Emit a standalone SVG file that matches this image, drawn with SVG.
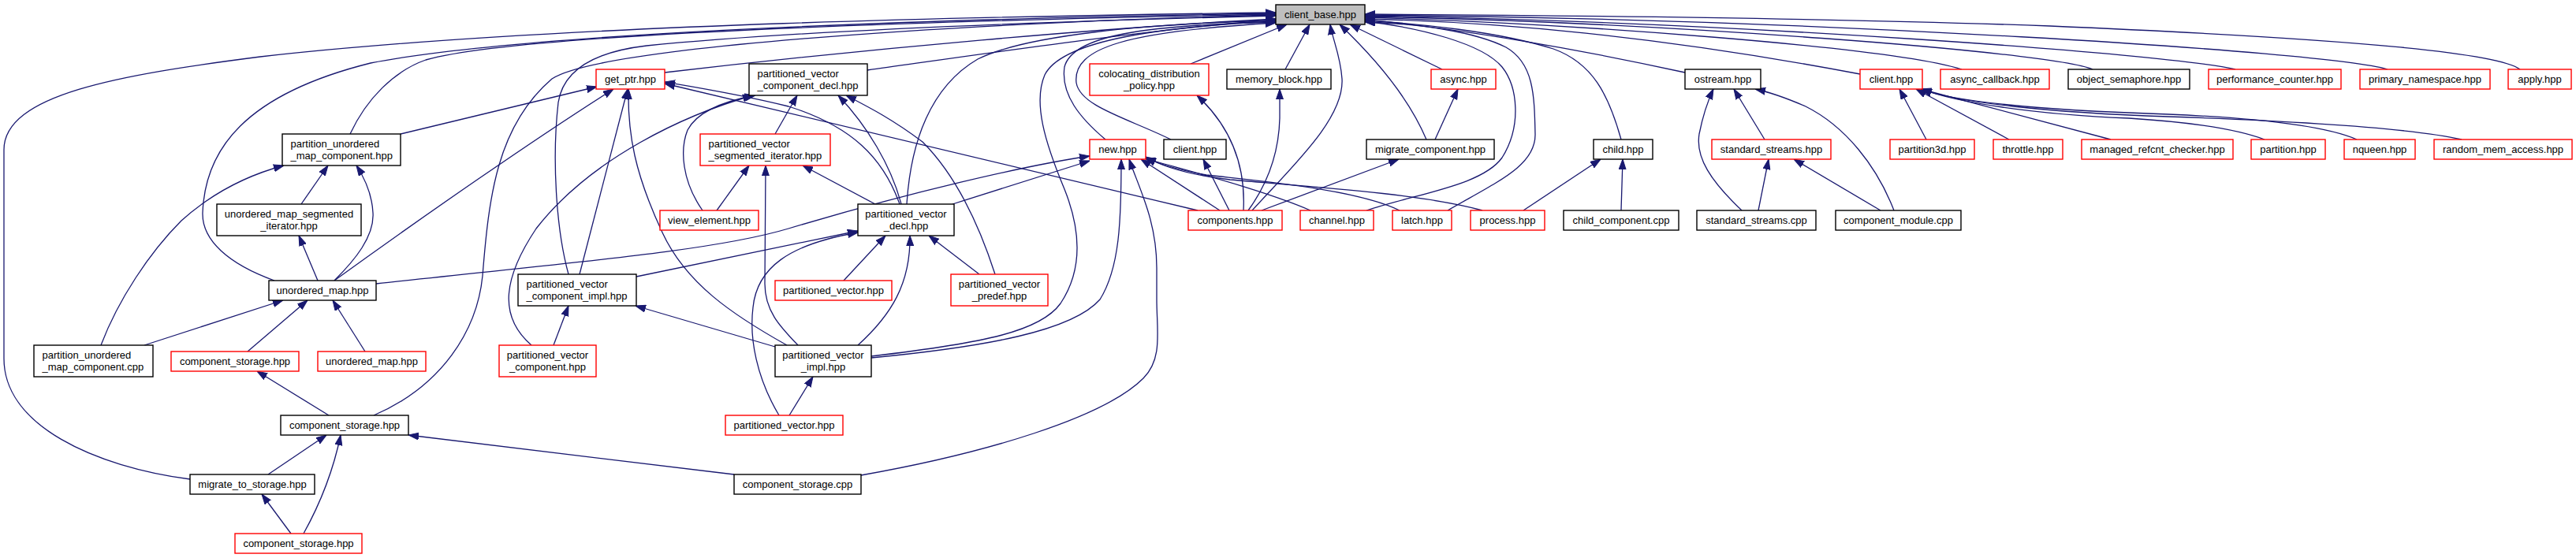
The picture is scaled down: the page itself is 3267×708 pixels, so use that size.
<svg xmlns="http://www.w3.org/2000/svg" width="3267" height="708" viewBox="0 0 3267 708">
<defs>
<marker id="ah" viewBox="0 0 13 10" refX="13" refY="5" markerWidth="13" markerHeight="10" markerUnits="userSpaceOnUse" orient="auto"><path d="M0,0.5 L13,5 L0,9.5 z" fill="#191970" stroke="#191970" stroke-width="1"/></marker>
<style>
.e{fill:none;stroke:#191970;stroke-width:1.3;marker-end:url(#ah)}
.nb rect{fill:#fff;stroke:#000;stroke-width:1.4}
.nr rect{fill:#fff;stroke:#ff0000;stroke-width:1.4}
.ng rect{fill:#bfbfbf;stroke:#000;stroke-width:1.4}
text{font-family:"Liberation Sans",Arial,sans-serif;font-size:13px;fill:#000}
.c{text-anchor:middle}
</style>
</defs>
<rect width="3267" height="708" fill="#fff"/>
<g id="edges">
<path class="e" d="M241,608 C120,592 5,540 5,455 L5,190 C5,120 150,95 330,72 C700,30 1300,20 1618,16"/>
<path class="e" d="M348,356 C290,335 256,305 257,270 C260,190 310,120 470,80 C650,45 1100,25 1618,17"/>
<path class="e" d="M444,170 C465,125 500,90 540,76 C650,45 1100,28 1618,18"/>
<path class="e" d="M474,527 C560,490 605,420 612,350 C620,250 630,160 700,100 C760,60 1200,30 1618,19"/>
<path class="e" d="M721,348 C705,290 700,200 708,130 C715,85 760,65 820,58 C1000,40 1300,28 1618,20"/>
<path class="e" d="M843,92 C1100,62 1400,35 1618,24"/>
<path class="e" d="M1100,89 C1250,68 1450,38 1618,25"/>
<path class="e" d="M1150,259 C1155,180 1180,110 1240,75 C1300,45 1450,30 1618,26"/>
<path class="e" d="M1105,452 C1250,435 1320,420 1345,385 C1375,340 1370,290 1350,240 C1325,180 1310,130 1325,95 C1345,55 1450,35 1618,27"/>
<path class="e" d="M1402,177 C1370,150 1345,120 1350,85 C1360,45 1450,32 1618,28"/>
<path class="e" d="M1485,177 C1430,150 1370,135 1365,105 C1360,60 1430,40 1618,29"/>
<path class="e" d="M1510,81 L1632,31"/>
<path class="e" d="M1630,88 L1661,31"/>
<path class="e" d="M1588,267 C1640,210 1705,150 1702,100 C1700,70 1690,50 1687,31"/>
<path class="e" d="M1809,177 C1785,120 1740,70 1699,31"/>
<path class="e" d="M1829,88 L1712,31"/>
<path class="e" d="M1733,267 C1800,245 1880,235 1905,200 C1930,160 1925,110 1905,85 C1880,55 1800,35 1731,27"/>
<path class="e" d="M1836,267 C1900,230 1948,210 1947,170 C1946,120 1945,80 1910,60 C1870,40 1800,30 1731,28"/>
<path class="e" d="M2056,177 C2040,120 2020,80 1970,62 C1900,40 1800,30 1731,26"/>
<path class="e" d="M2137,92 C2000,62 1850,36 1731,25"/>
<path class="e" d="M2359,94 C2100,45 1900,28 1731,24"/>
<path class="e" d="M2488,88 C2400,60 2000,30 1731,22"/>
<path class="e" d="M2654,88 C2600,65 2100,28 1731,21"/>
<path class="e" d="M2835,88 C2750,68 2200,28 1731,20"/>
<path class="e" d="M3028,88 C2950,65 2300,24 1731,19"/>
<path class="e" d="M3196,88 C3170,68 3000,50 2600,33 C2300,22 1900,19 1731,18"/>
<path class="e" d="M508,170 L757,110"/>
<path class="e" d="M424,356 C540,272 680,175 778,113"/>
<path class="e" d="M735,348 L796,113"/>
<path class="e" d="M998,438 C930,400 870,360 840,295 C805,220 796,170 797,113"/>
<path class="e" d="M1519,267 L843,106"/>
<path class="e" d="M1141,259 C1120,200 1080,160 1000,135 C940,120 890,112 843,104"/>
<path class="e" d="M674,438 C630,400 640,350 680,290 C750,200 870,145 955,121"/>
<path class="e" d="M891,267 C865,230 862,190 872,165 C885,140 920,128 958,121"/>
<path class="e" d="M983,170 L1011,121"/>
<path class="e" d="M1143,259 C1130,210 1100,160 1063,121"/>
<path class="e" d="M1262,348 C1240,280 1210,220 1170,180 C1130,150 1100,135 1073,121"/>
<path class="e" d="M909,267 L950,210"/>
<path class="e" d="M1012,438 C990,415 970,395 970,360 L971,210"/>
<path class="e" d="M1110,259 L1018,210"/>
<path class="e" d="M807,351 L1088,293"/>
<path class="e" d="M988,527 C960,480 950,430 955,390 C960,340 1000,310 1088,295"/>
<path class="e" d="M1070,356 L1123,299"/>
<path class="e" d="M1088,438 C1130,400 1155,360 1154,299"/>
<path class="e" d="M1242,348 L1178,299"/>
<path class="e" d="M702,438 L721,388"/>
<path class="e" d="M983,440 L806,388"/>
<path class="e" d="M183,438 L359,381"/>
<path class="e" d="M314,446 L390,381"/>
<path class="e" d="M463,446 L422,381"/>
<path class="e" d="M128,438 C150,380 190,320 230,280 C280,235 330,218 360,210"/>
<path class="e" d="M382,259 L416,210"/>
<path class="e" d="M424,356 C450,330 475,300 473,270 C472,250 465,230 452,210"/>
<path class="e" d="M403,356 L379,299"/>
<path class="e" d="M477,360 C700,335 900,320 1000,290 C1150,245 1300,210 1382,198"/>
<path class="e" d="M1208,259 L1382,204"/>
<path class="e" d="M1105,454 C1250,440 1360,420 1395,380 C1420,340 1422,280 1422,202"/>
<path class="e" d="M1092,603 C1250,575 1400,530 1450,480 C1475,455 1467,420 1467,380 L1467,340 C1467,280 1445,240 1432,202"/>
<path class="e" d="M1547,267 L1447,202"/>
<path class="e" d="M1662,267 C1600,240 1500,215 1452,201"/>
<path class="e" d="M1775,267 C1720,240 1600,230 1530,222 C1490,215 1470,208 1453,200"/>
<path class="e" d="M1880,267 C1800,245 1650,236 1560,228 C1510,222 1475,212 1453,199"/>
<path class="e" d="M1559,267 L1526,202"/>
<path class="e" d="M1577,267 C1580,210 1560,160 1518,121"/>
<path class="e" d="M1583,267 C1610,230 1622,190 1623,150 L1623,113"/>
<path class="e" d="M1600,267 L1774,202"/>
<path class="e" d="M1820,177 L1849,113"/>
<path class="e" d="M1932,267 L2030,202"/>
<path class="e" d="M2056,267 L2058,202"/>
<path class="e" d="M2238,177 L2199,113"/>
<path class="e" d="M2209,267 C2170,230 2150,200 2155,170 C2160,145 2165,130 2173,113"/>
<path class="e" d="M2230,267 L2243,202"/>
<path class="e" d="M2385,267 L2275,202"/>
<path class="e" d="M2402,267 C2380,210 2340,160 2290,135 C2260,122 2240,116 2226,113"/>
<path class="e" d="M2443,177 L2409,113"/>
<path class="e" d="M2548,177 L2430,113"/>
<path class="e" d="M2677,177 L2436,113"/>
<path class="e" d="M2872,177 C2840,165 2780,155 2700,150 C2580,145 2480,130 2437,113"/>
<path class="e" d="M2989,177 C2950,160 2870,150 2750,145 C2600,140 2480,130 2437,113"/>
<path class="e" d="M3122,177 C3070,165 2950,155 2750,148 C2600,143 2480,130 2437,113"/>
<path class="e" d="M340,602 L414,552"/>
<path class="e" d="M385,677 C400,650 420,610 432,552"/>
<path class="e" d="M931,602 L518,552"/>
<path class="e" d="M417,527 L326,471"/>
<path class="e" d="M369,677 L332,627"/>
<path class="e" d="M1001,527 L1031,478"/>
</g>
<g id="n_client_base" class="ng"><rect x="1618" y="6" width="113" height="25"/><text class="c" x="1674.5" y="23">client_base.hpp</text></g>
<g id="n_get_ptr" class="nr"><rect x="756" y="88" width="87" height="25"/><text class="c" x="799.5" y="105">get_ptr.hpp</text></g>
<g id="n_pv_component_decl" class="nb"><rect x="950" y="81" width="150" height="40"/><text x="960.5" y="98">partitioned_vector</text><text x="960.5" y="113">_component_decl.hpp</text></g>
<g id="n_colocating" class="nr"><rect x="1382" y="81" width="151" height="40"/><text class="c" x="1457.5" y="98">colocating_distribution</text><text class="c" x="1457.5" y="113">_policy.hpp</text></g>
<g id="n_memory_block" class="nb"><rect x="1556" y="88" width="132" height="25"/><text class="c" x="1622" y="105">memory_block.hpp</text></g>
<g id="n_async" class="nr"><rect x="1815" y="88" width="82" height="25"/><text class="c" x="1856" y="105">async.hpp</text></g>
<g id="n_ostream" class="nb"><rect x="2137" y="88" width="96" height="25"/><text class="c" x="2185" y="105">ostream.hpp</text></g>
<g id="n_client_red" class="nr"><rect x="2359" y="88" width="79" height="25"/><text class="c" x="2398.5" y="105">client.hpp</text></g>
<g id="n_async_callback" class="nr"><rect x="2461" y="88" width="138" height="25"/><text class="c" x="2530" y="105">async_callback.hpp</text></g>
<g id="n_object_semaphore" class="nb"><rect x="2623" y="88" width="154" height="25"/><text class="c" x="2700" y="105">object_semaphore.hpp</text></g>
<g id="n_performance_counter" class="nr"><rect x="2801" y="88" width="168" height="25"/><text class="c" x="2885" y="105">performance_counter.hpp</text></g>
<g id="n_primary_namespace" class="nr"><rect x="2993" y="88" width="165" height="25"/><text class="c" x="3075.5" y="105">primary_namespace.hpp</text></g>
<g id="n_apply" class="nr"><rect x="3181" y="88" width="80" height="25"/><text class="c" x="3221" y="105">apply.hpp</text></g>
<g id="n_pumc_hpp" class="nb"><rect x="358" y="170" width="150" height="40"/><text x="368.5" y="187">partition_unordered</text><text x="368.5" y="202">_map_component.hpp</text></g>
<g id="n_pv_seg_iter" class="nr"><rect x="888" y="170" width="165" height="40"/><text x="898.5" y="187">partitioned_vector</text><text x="898.5" y="202">_segmented_iterator.hpp</text></g>
<g id="n_new" class="nr"><rect x="1382" y="177" width="71" height="25"/><text class="c" x="1417.5" y="194">new.hpp</text></g>
<g id="n_client_black" class="nb"><rect x="1476" y="177" width="79" height="25"/><text class="c" x="1515.5" y="194">client.hpp</text></g>
<g id="n_migrate_component" class="nb"><rect x="1733" y="177" width="162" height="25"/><text class="c" x="1814" y="194">migrate_component.hpp</text></g>
<g id="n_child" class="nb"><rect x="2021" y="177" width="75" height="25"/><text class="c" x="2058.5" y="194">child.hpp</text></g>
<g id="n_standard_streams_hpp" class="nr"><rect x="2171" y="177" width="151" height="25"/><text class="c" x="2246.5" y="194">standard_streams.hpp</text></g>
<g id="n_partition3d" class="nr"><rect x="2397" y="177" width="107" height="25"/><text class="c" x="2450.5" y="194">partition3d.hpp</text></g>
<g id="n_throttle" class="nr"><rect x="2528" y="177" width="88" height="25"/><text class="c" x="2572" y="194">throttle.hpp</text></g>
<g id="n_managed_refcnt" class="nr"><rect x="2640" y="177" width="192" height="25"/><text class="c" x="2736" y="194">managed_refcnt_checker.hpp</text></g>
<g id="n_partition" class="nr"><rect x="2855" y="177" width="94" height="25"/><text class="c" x="2902" y="194">partition.hpp</text></g>
<g id="n_nqueen" class="nr"><rect x="2973" y="177" width="90" height="25"/><text class="c" x="3018" y="194">nqueen.hpp</text></g>
<g id="n_random_mem_access" class="nr"><rect x="3087" y="177" width="175" height="25"/><text class="c" x="3174.5" y="194">random_mem_access.hpp</text></g>
<g id="n_umsi" class="nb"><rect x="275" y="259" width="183" height="40"/><text class="c" x="366.5" y="276">unordered_map_segmented</text><text class="c" x="366.5" y="291">_iterator.hpp</text></g>
<g id="n_view_element" class="nr"><rect x="837" y="267" width="125" height="25"/><text class="c" x="899.5" y="284">view_element.hpp</text></g>
<g id="n_pv_decl" class="nb"><rect x="1088" y="259" width="122" height="40"/><text class="c" x="1149" y="276">partitioned_vector</text><text class="c" x="1149" y="291">_decl.hpp</text></g>
<g id="n_components" class="nr"><rect x="1507" y="267" width="119" height="25"/><text class="c" x="1566.5" y="284">components.hpp</text></g>
<g id="n_channel" class="nr"><rect x="1649" y="267" width="93" height="25"/><text class="c" x="1695.5" y="284">channel.hpp</text></g>
<g id="n_latch" class="nr"><rect x="1766" y="267" width="75" height="25"/><text class="c" x="1803.5" y="284">latch.hpp</text></g>
<g id="n_process" class="nr"><rect x="1865" y="267" width="94" height="25"/><text class="c" x="1912" y="284">process.hpp</text></g>
<g id="n_child_component" class="nb"><rect x="1983" y="267" width="146" height="25"/><text class="c" x="2056" y="284">child_component.cpp</text></g>
<g id="n_standard_streams_cpp" class="nb"><rect x="2152" y="267" width="151" height="25"/><text class="c" x="2227.5" y="284">standard_streams.cpp</text></g>
<g id="n_component_module" class="nb"><rect x="2328" y="267" width="159" height="25"/><text class="c" x="2407.5" y="284">component_module.cpp</text></g>
<g id="n_unordered_map" class="nb"><rect x="341" y="356" width="136" height="25"/><text class="c" x="409" y="373">unordered_map.hpp</text></g>
<g id="n_pv_component_impl" class="nb"><rect x="657" y="348" width="150" height="40"/><text x="667.5" y="365">partitioned_vector</text><text x="667.5" y="380">_component_impl.hpp</text></g>
<g id="n_pv_upper" class="nr"><rect x="983" y="356" width="148" height="25"/><text class="c" x="1057" y="373">partitioned_vector.hpp</text></g>
<g id="n_pv_predef" class="nr"><rect x="1206" y="348" width="123" height="40"/><text class="c" x="1267.5" y="365">partitioned_vector</text><text class="c" x="1267.5" y="380">_predef.hpp</text></g>
<g id="n_pumc_cpp" class="nb"><rect x="43" y="438" width="151" height="40"/><text x="53.5" y="455">partition_unordered</text><text x="53.5" y="470">_map_component.cpp</text></g>
<g id="n_cs_upper" class="nr"><rect x="217" y="446" width="162" height="25"/><text class="c" x="298" y="463">component_storage.hpp</text></g>
<g id="n_unordered_map_red" class="nr"><rect x="403" y="446" width="137" height="25"/><text class="c" x="471.5" y="463">unordered_map.hpp</text></g>
<g id="n_pv_component" class="nr"><rect x="633" y="438" width="123" height="40"/><text class="c" x="694.5" y="455">partitioned_vector</text><text class="c" x="694.5" y="470">_component.hpp</text></g>
<g id="n_pv_impl" class="nb"><rect x="983" y="438" width="122" height="40"/><text class="c" x="1044" y="455">partitioned_vector</text><text class="c" x="1044" y="470">_impl.hpp</text></g>
<g id="n_cs_black" class="nb"><rect x="356" y="527" width="162" height="25"/><text class="c" x="437" y="544">component_storage.hpp</text></g>
<g id="n_pv_lower" class="nr"><rect x="920" y="527" width="149" height="25"/><text class="c" x="994.5" y="544">partitioned_vector.hpp</text></g>
<g id="n_migrate_to_storage" class="nb"><rect x="241" y="602" width="158" height="25"/><text class="c" x="320" y="619">migrate_to_storage.hpp</text></g>
<g id="n_cs_cpp" class="nb"><rect x="931" y="602" width="161" height="25"/><text class="c" x="1011.5" y="619">component_storage.cpp</text></g>
<g id="n_cs_bottom" class="nr"><rect x="298" y="677" width="161" height="25"/><text class="c" x="378.5" y="694">component_storage.hpp</text></g>
</svg>
